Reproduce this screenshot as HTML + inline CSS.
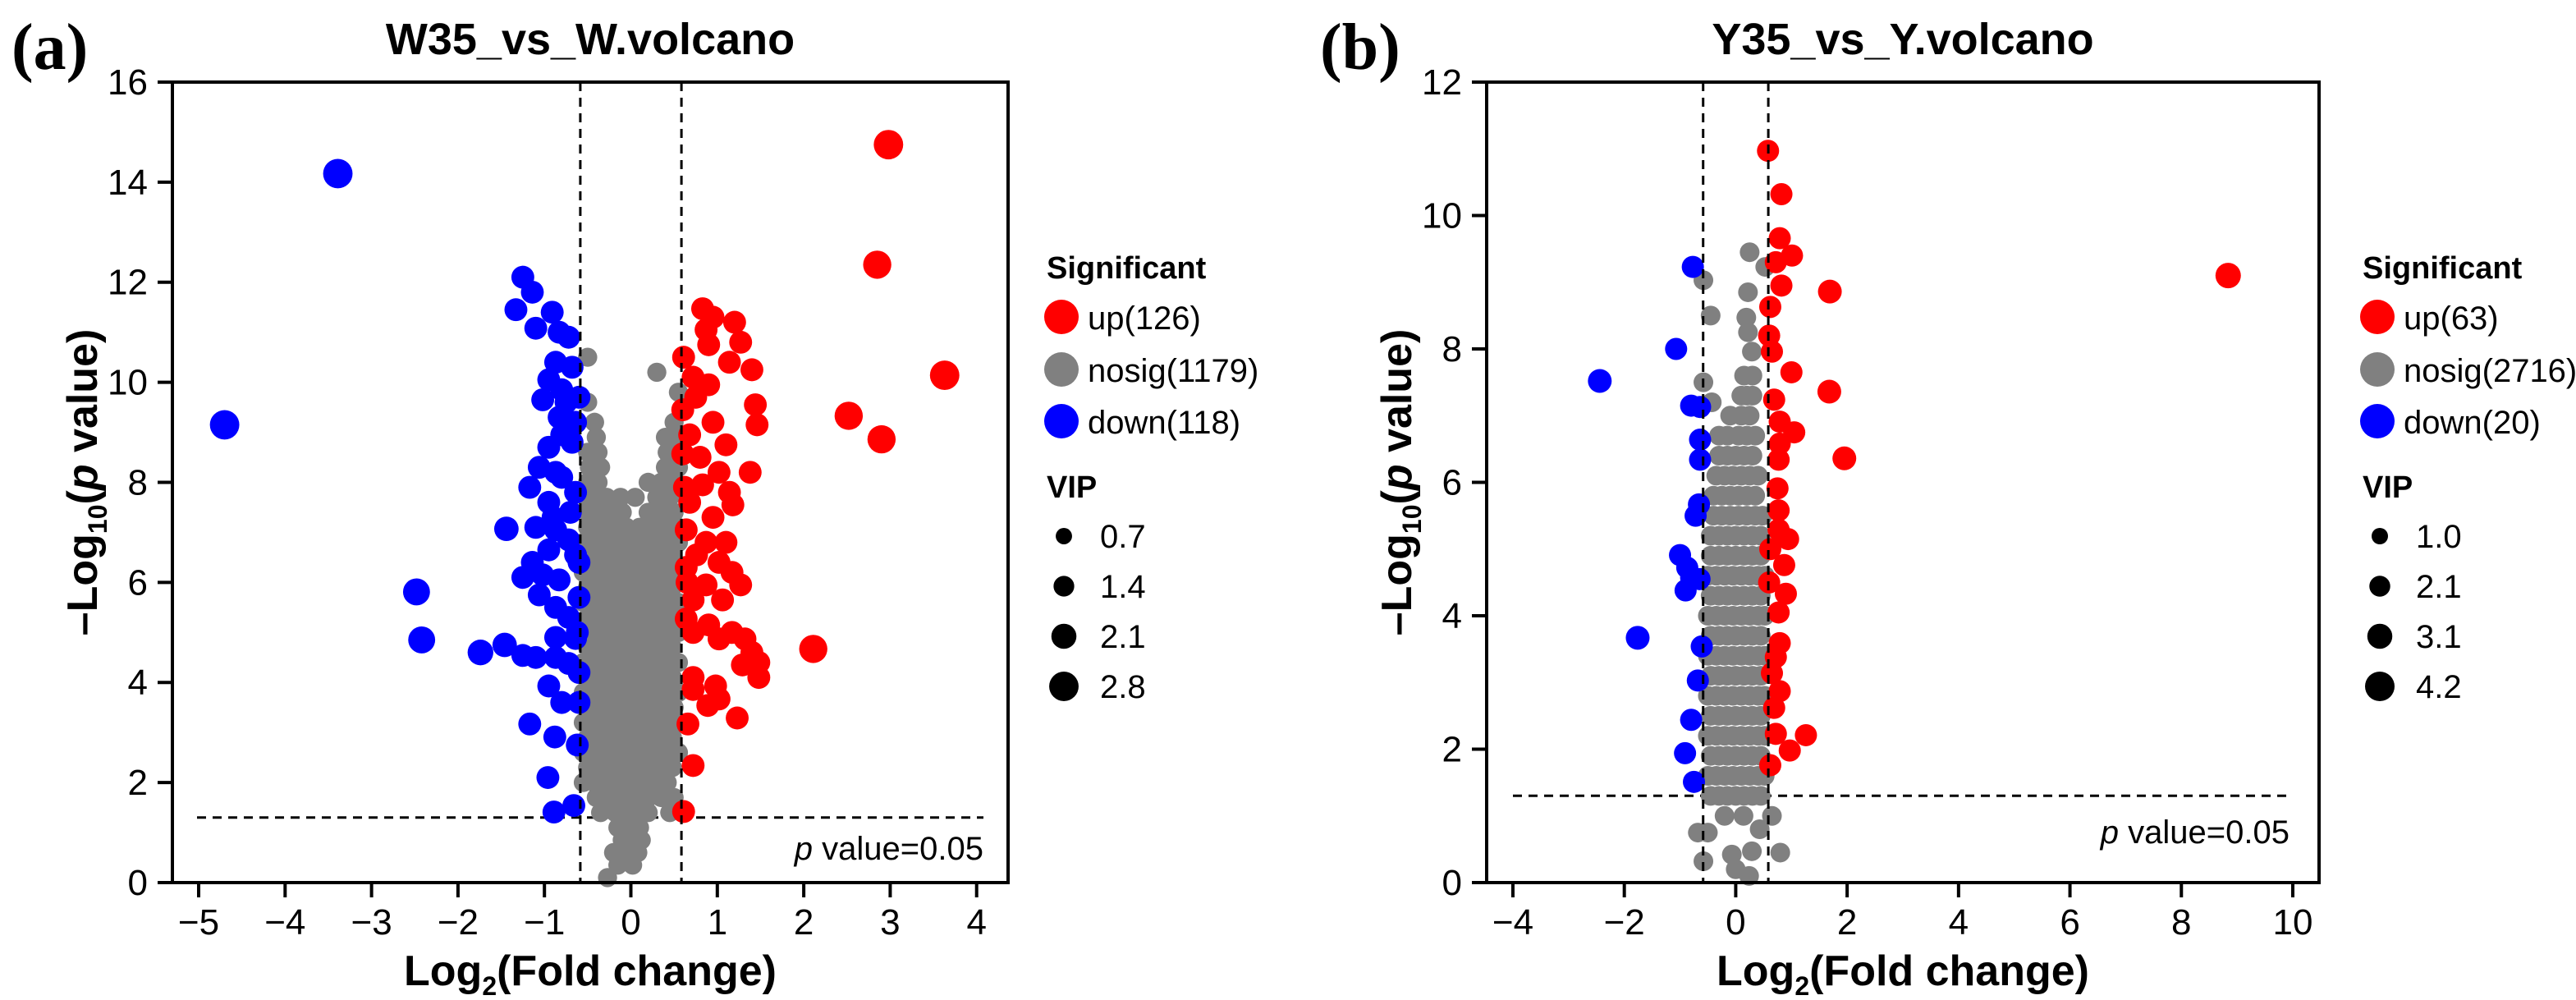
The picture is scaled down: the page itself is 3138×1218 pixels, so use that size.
<!DOCTYPE html>
<html><head><meta charset="utf-8"><style>
html,body{margin:0;padding:0;background:#fff;}
svg{display:block;}
text{font-family:"Liberation Sans",Arial,sans-serif;}
text.serif{font-family:"Liberation Serif",serif;}
</style></head><body>
<svg id="fig" xmlns="http://www.w3.org/2000/svg" width="3138" height="1218" viewBox="0 0 3138 1218"></svg>
<script>
// ---------- Panel A data ----------
const aXTicks = [-5,-4,-3,-2,-1,0,1,2,3,4];
const aYTicks = [0,2,4,6,8,10,12,14,16];
const aBlue = [[-4.7,9.15,2.8],[-3.39,14.17,2.8],[-2.48,5.81,2.4],[-2.42,4.85,2.4],[-1.74,4.6,2.2],[-1.46,4.75,2],[-1.44,7.07,2],
[-1.25,12.1],[-1.14,11.8],[-1.33,11.45],[-0.91,11.4],[-1.1,11.08],[-0.83,11],[-0.72,10.9],[-0.87,10.4],[-0.68,10.3],[-0.95,10.05],
[-0.8,9.85],[-1.02,9.65],[-0.6,9.7],[-0.83,9.3],[-0.64,9.2],[-0.8,8.95],[-0.68,8.8],[-0.95,8.7],[-1.06,8.3],[-0.87,8.2],[-0.8,8.1],
[-1.17,7.9],[-0.95,7.6],[-0.64,7.8],[-1.1,7.1],[-0.87,7.05],[-0.72,6.85],[-0.95,6.65],[-0.64,6.55],[-1.14,6.4],[-1.25,6.1],[-1.02,6.15],
[-0.83,6.05],[-0.6,6.4],[-1.06,5.75],[-0.87,5.5],[-0.72,5.3],[-0.64,4.88],[-0.87,4.9],[-1.1,4.5],[-0.72,4.38],[-0.87,4.5],[-1.25,4.54],
[-0.95,3.93],[-0.8,3.6],[-0.6,3.6],[-1.17,3.17],[-0.88,2.91],[-0.62,2.75],[-0.96,2.1],[-0.66,1.54],[-0.89,1.41],[-0.6,5.7],[-0.6,4.2],
[-0.7,7.4],[-0.75,9.6],[-0.9,7.3],[-0.62,5.0]];
const aRed = [[2.98,14.75,2.8],[2.85,12.35,2.6],[3.63,10.14,2.8],[2.52,9.33,2.6],[2.9,8.86,2.6],[2.11,4.67,2.6],
[0.83,11.47],[0.95,11.3],[1.2,11.2],[0.87,11.05],[1.27,10.8],[0.9,10.75],[0.61,10.5],[1.14,10.4],[1.4,10.25],[0.72,10.1],[0.9,9.95],
[0.6,9.45],[1.44,9.55],[1.46,9.15],[0.95,9.2],[0.68,8.95],[1.1,8.75],[0.8,8.5],[0.6,8.57],[1.38,8.2],[1.02,8.2],[0.83,7.95],[1.14,7.8],
[0.68,7.6],[1.18,7.55],[0.95,7.3],[0.64,7.05],[0.87,6.8],[1.1,6.8],[0.76,6.55],[1.02,6.4],[0.64,6.3],[1.17,6.2],[0.87,5.95],[1.27,5.95],
[0.72,5.65],[1.06,5.65],[0.64,5.27],[0.9,5.15],[0.72,5.0],[1.17,5.0],[1.32,4.87],[1.02,4.87],[1.4,4.6],[1.48,4.4],[1.29,4.35],[1.48,4.1],
[0.72,4.1],[0.98,3.93],[0.72,3.86],[1.02,3.67],[0.89,3.54],[1.23,3.29],[0.66,3.17],[0.72,2.34],[0.61,1.42],[0.62,7.9],[0.75,9.7],[0.65,6.0]];
const aGrayRows = [
[0.1,[-0.27]],[0.35,[-0.15,0.02]],[0.6,[-0.2,-0.05,0.08]],[0.85,[-0.1,0,0.12]],[1.1,[-0.15,-0.02,0.1]],
[1.4,[-0.35,-0.18,-0.05,0.08,0.2,0.45]],[1.7,[-0.4,-0.25,-0.1,0.05,0.2,0.35,0.5]],
[2.0,[-0.55,-0.42,-0.28,-0.14,0,0.14,0.28,0.42]],[2.3,[-0.5,-0.36,-0.22,-0.08,0.06,0.2,0.34,0.48]],
[2.6,[-0.55,-0.42,-0.28,-0.14,0,0.14,0.28,0.42,0.55]],[2.9,[-0.5,-0.36,-0.22,-0.08,0.06,0.2,0.34,0.48]],
[3.2,[-0.55,-0.42,-0.28,-0.14,0,0.14,0.28,0.42,0.55]],[3.5,[-0.5,-0.36,-0.22,-0.08,0.06,0.2,0.34,0.5]],
[3.8,[-0.55,-0.42,-0.28,-0.14,0,0.14,0.28,0.42,0.55]],[4.1,[-0.5,-0.36,-0.22,-0.08,0.06,0.2,0.34,0.48]],
[4.4,[-0.55,-0.42,-0.28,-0.14,0,0.14,0.28,0.42,0.55]],[4.7,[-0.5,-0.36,-0.22,-0.08,0.06,0.2,0.34,0.48]],
[5.0,[-0.55,-0.42,-0.28,-0.14,0,0.14,0.28,0.42,0.55]],[5.3,[-0.5,-0.36,-0.22,-0.08,0.06,0.2,0.34,0.48]],
[5.6,[-0.55,-0.42,-0.28,-0.14,0,0.14,0.28,0.42,0.55]],[5.9,[-0.5,-0.36,-0.22,-0.08,0.06,0.2,0.34,0.48]],
[6.2,[-0.55,-0.42,-0.28,-0.14,0,0.14,0.28,0.42,0.55]],[6.5,[-0.5,-0.36,-0.22,-0.08,0.06,0.2,0.34,0.48]],
[6.8,[-0.55,-0.42,-0.28,-0.14,0,0.14,0.28,0.42,0.55]],[7.1,[-0.5,-0.35,-0.2,-0.05,0.1,0.25,0.4,0.55]],
[7.4,[-0.5,-0.38,-0.25,-0.1,0.2,0.35,0.5]],[7.7,[-0.52,-0.4,-0.28,-0.12,0.05,0.3,0.45]],
[8.0,[-0.5,-0.38,0.2,0.35,0.5]],[8.3,[-0.48,-0.35,0.4,0.55]],[8.6,[-0.5,-0.38,0.42,0.55]],
[8.9,[-0.4,0.4,0.55]],[9.2,[-0.42,0.5]],[9.6,[-0.5]],[9.8,[0.55]],[10.2,[0.3]],[10.5,[-0.5]]];

// ---------- Panel B data ----------
const bXTicks = [-4,-2,0,2,4,6,8,10];
const bYTicks = [0,2,4,6,8,10,12];
const bRed = [[0.58,10.97],[0.82,10.32],[0.79,9.66],[1.01,9.4],[0.72,9.3],[0.82,8.95],[1.69,8.86,2.8],[0.62,8.63],[8.84,9.1,3.2],
[0.65,7.96],[1.0,7.65],[1.68,7.36,2.8],[0.69,7.24],[0.79,6.91],[1.05,6.75],[0.79,6.58],[1.95,6.36,2.8],[0.77,6.34],[0.75,5.91],
[0.77,5.58],[0.94,5.15],[0.77,5.29],[0.87,4.76],[0.9,4.33],[0.77,4.05],[0.79,3.59],[0.72,3.38],[0.65,3.14],[0.79,2.87],[0.69,2.62],
[0.72,2.23],[1.26,2.21],[0.97,1.98],[0.62,1.76],[0.6,8.2],[0.62,5.0],[0.6,4.5]];
const bBlue = [[-0.77,9.23],[-1.07,8.0],[-2.44,7.52,2.8],[-0.8,7.15],[-0.64,7.13],[-0.64,6.64],[-0.64,6.34],[-0.66,5.67],[-0.72,5.5],
[-1.0,4.91],[-0.87,4.72],[-0.8,4.57],[-0.65,4.55],[-0.9,4.38],[-1.76,3.67,2.8],[-0.61,3.54],[-0.68,3.03],[-0.8,2.44],[-0.91,1.94],[-0.75,1.51]];
const bGrayExtra = [[-0.58,9.03],[-0.45,8.5],[0.25,9.45],[0.53,9.23],[0.22,8.85],[0.19,8.47],[0.22,8.25],[-0.58,7.5],[-0.43,7.2],[0.29,7.96],
[-0.68,0.75],[-0.5,0.75],[0.65,1.0],[0.8,0.45],[-0.58,0.32],[-0.07,0.42],[0.24,0.1],[0.43,0.8],[-0.2,1.0],[0.14,1.0],[0.29,0.47],[0.0,0.2]];
const bGrayRows = [
[1.3,[-0.45,-0.3,-0.15,0,0.15,0.3,0.45]],[1.6,[-0.5,-0.35,-0.2,-0.05,0.1,0.25,0.4,0.52]],
[1.9,[-0.45,-0.3,-0.15,0,0.15,0.3,0.45]],[2.2,[-0.5,-0.35,-0.2,-0.05,0.1,0.25,0.4,0.52]],
[2.5,[-0.45,-0.3,-0.15,0,0.15,0.3,0.45]],[2.8,[-0.5,-0.35,-0.2,-0.05,0.1,0.25,0.4,0.52]],
[3.1,[-0.45,-0.3,-0.15,0,0.15,0.3,0.45]],[3.4,[-0.5,-0.35,-0.2,-0.05,0.1,0.25,0.4,0.52]],
[3.7,[-0.45,-0.3,-0.15,0,0.15,0.3,0.45]],[4.0,[-0.5,-0.35,-0.2,-0.05,0.1,0.25,0.4,0.52]],
[4.3,[-0.45,-0.3,-0.15,0,0.15,0.3,0.45]],[4.6,[-0.5,-0.35,-0.2,-0.05,0.1,0.25,0.4,0.52]],
[4.9,[-0.45,-0.3,-0.15,0,0.15,0.3,0.45]],[5.2,[-0.45,-0.3,-0.15,0,0.15,0.3,0.45]],
[5.5,[-0.4,-0.25,-0.1,0.05,0.2,0.35,0.48]],[5.8,[-0.4,-0.25,-0.1,0.05,0.2,0.35]],
[6.1,[-0.35,-0.2,-0.05,0.1,0.25,0.4]],[6.4,[-0.3,-0.15,0,0.15,0.3]],[6.7,[-0.3,-0.15,0.05,0.2,0.35]],
[7.0,[-0.1,0.1,0.25]],[7.3,[0.1,0.2,0.3]],[7.6,[0.15,0.3]]];

// ---------- rendering ----------
const NS = 'http://www.w3.org/2000/svg';
const svg = document.getElementById('fig');
function mk(tag, attrs, parent){ const e=document.createElementNS(NS,tag); for(const k in attrs) e.setAttribute(k,attrs[k]); (parent||svg).appendChild(e); return e; }

function panel(P){
  const g = mk('g',{});
  
  
  const sx = v => P.x0 + (v - P.xmin) * P.xu;
  const sy = v => P.yb - v * P.yu;
  const rad = v => P.r0 + P.r1 * v;
  const dash = {stroke:'#000','stroke-width':3,'stroke-dasharray':'11 8',fill:'none'};
  const hl = mk('line',Object.assign({x1:P.hx1,x2:P.hx2,y1:sy(1.301),y2:sy(1.301)},dash),g);
   
  const pts = mk('g',{},g);
   
  P.grayRows.forEach(row=>{ row[1].forEach(x=>{
    const c = mk('circle',{cx:sx(x),cy:sy(row[0]),r:rad(P.grayVip),fill:'#808080'},pts);
     
  });});
  P.grayExtra.forEach(p=>{
    const c = mk('circle',{cx:sx(p[0]),cy:sy(p[1]),r:rad(p[2]||P.grayVip),fill:'#808080'},pts);
     
  });
  P.blue.forEach(p=>{
    const c = mk('circle',{cx:sx(p[0]),cy:sy(p[1]),r:rad(p[2]||P.sigVip),fill:'#0000ff'},pts);
     
  });
  P.red.forEach(p=>{
    const c = mk('circle',{cx:sx(p[0]),cy:sy(p[1]),r:rad(p[2]||P.sigVip),fill:'#ff0000'},pts);
     
  });
  [-0.585,0.585].forEach(fc=>{
    const l = mk('line',Object.assign({x1:sx(fc),x2:sx(fc),y1:P.top,y2:P.yb},dash),g);
     
  });
  const fr = mk('rect',{x:P.x0,y:P.top,width:P.right-P.x0,height:P.yb-P.top,fill:'none',stroke:'#000','stroke-width':4},g);
   
  P.xt.forEach(t=>{
    const l = mk('line',{x1:sx(t),x2:sx(t),y1:P.yb,y2:P.yb+18,stroke:'#000','stroke-width':4},g);
     
    const tx = mk('text',{x:sx(t),y:P.yb+63,'font-size':44,'text-anchor':'middle'},g);
    tx.textContent = t<0 ? '\u2212'+Math.abs(t) : String(t);
     
  });
  P.yt.forEach(t=>{
    const l = mk('line',{x1:P.x0-18,x2:P.x0,y1:sy(t),y2:sy(t),stroke:'#000','stroke-width':4},g);
     
    const tx = mk('text',{x:P.x0-30,y:sy(t)+15,'font-size':44,'text-anchor':'end'},g);
    tx.textContent = String(t);
     
  });
  const pv = mk('text',{x:P.pvx,y:P.pvy,'font-size':40,'text-anchor':'end'},g);
  pv.innerHTML = '<tspan font-style="italic">p</tspan> value=0.05';
   
  const tt = mk('text',{x:(P.x0+P.right)/2,y:66,'font-size':54,'font-weight':'bold','text-anchor':'middle'},g);
  tt.textContent = P.title;
   
  const xl = mk('text',{x:(P.x0+P.right)/2,y:1200,'font-size':52,'font-weight':'bold','text-anchor':'middle'},g);
  xl.innerHTML = 'Log<tspan font-size="32" dy="12">2</tspan><tspan dy="-12">(Fold change)</tspan>';
   
  const yl = mk('text',{x:0,y:0,'font-size':52,'font-weight':'bold','text-anchor':'middle',transform:`translate(${P.x0-92},${(P.top+P.yb)/2}) rotate(-90)`},g);
  yl.innerHTML = '\u2013Log<tspan font-size="32" dy="12">10</tspan><tspan dy="-12">(</tspan><tspan font-style="italic">p</tspan> value)';
   
  const pl = mk('text',{x:P.lblx,y:84,'font-size':80,'font-weight':'bold','class':'serif'},g);
  pl.textContent = P.label;
   
  const lg = mk('g',{},g);
   
  const h1 = mk('text',{x:P.lx-18,y:339,'font-size':38,'font-weight':'bold'},lg);
  h1.textContent='Significant';
   
  [['up',P.counts[0],'#ff0000',386],['nosig',P.counts[1],'#808080',450],['down',P.counts[2],'#0000ff',513]].forEach(e=>{
    const c = mk('circle',{cx:P.lx,cy:e[3],r:21,fill:e[2]},lg);
     
    const t = mk('text',{x:P.lx+32,y:e[3]+15,'font-size':40},lg);
    t.textContent = e[0]+'('+e[1]+')';
     
  });
  const h2 = mk('text',{x:P.lx-18,y:606,'font-size':38,'font-weight':'bold'},lg);
  h2.textContent='VIP';
   
  P.vipLevels.forEach((v,i)=>{
    const cy = 653 + i*61;
    const c = mk('circle',{cx:P.lx+3,cy:cy,r:rad(v),fill:'#000'},lg);
     
    const t = mk('text',{x:P.lx+47,y:cy+14,'font-size':40},lg);
    t.textContent = v.toFixed(1);
     
  });
}

panel({id:'w35',title:'W35_vs_W.volcano',label:'(a)',lblx:14,x0:210,right:1228,top:100,yb:1075,xmin:-5.304,xu:105.3,yu:60.94,
  xt:aXTicks,yt:aYTicks,hx1:240,hx2:1198,pvx:1198,pvy:1047,r0:7.3,r1:3.8,grayVip:1.15,sigVip:1.75,
  grayRows:aGrayRows,grayExtra:[],blue:aBlue,red:aRed,lx:1293,counts:[126,1179,118],vipLevels:[0.7,1.4,2.1,2.8]});
panel({id:'y35',title:'Y35_vs_Y.volcano',label:'(b)',lblx:1608,x0:1811,right:2825,top:100,yb:1075,xmin:-4.471,xu:67.86,yu:81.25,
  xt:bXTicks,yt:bYTicks,hx1:1843,hx2:2789,pvx:2789,pvy:1027,r0:7.5,r1:2.5,grayVip:1.8,sigVip:2.4,
  grayRows:bGrayRows,grayExtra:bGrayExtra,blue:bBlue,red:bRed,lx:2896,counts:[63,2716,20],vipLevels:[1.0,2.1,3.1,4.2]});
</script>
</body></html>
